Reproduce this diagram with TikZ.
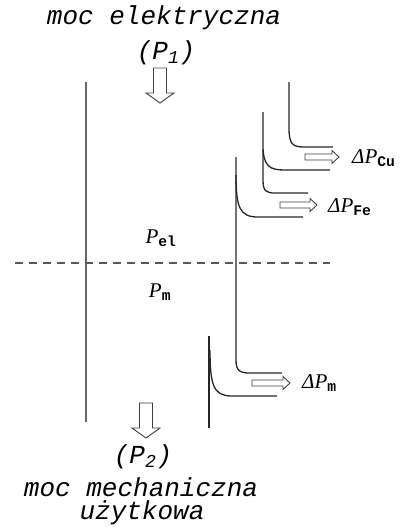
\documentclass[tikz,border=0pt]{standalone}
\usepackage{fontspec}
\setmainfont{Liberation Serif}
\newfontfamily\cour{Liberation Mono}
\newcommand\rarr[3]{\draw[hollow] ({#1},{#2-3}) -- ({#1+#3-7},{#2-3}) -- ({#1+#3-7},{#2-6.5}) -- ({#1+#3},{#2}) -- ({#1+#3-7},{#2+6.5}) -- ({#1+#3-7},{#2+3}) -- ({#1},{#2+3}) -- cycle;}
\newcommand\darr[3]{\draw[hollow] ({#1-6.5},{#2}) -- ({#1+6.5},{#2}) -- ({#1+6.5},{#3-10}) -- ({#1+14},{#3-10}) -- ({#1},{#3}) -- ({#1-14},{#3-10}) -- ({#1-6.5},{#3-10}) -- cycle;}
\begin{document}
\begin{tikzpicture}[x=1pt,y=-1pt,
  flow/.style={draw=black!85, line width=1.3pt},
  bar/.style={draw=black!60, line width=1.8pt},
  hollow/.style={draw=black!75, line width=0.9pt, fill=white},
  ttl/.style={font=\fontsize{26}{30}\selectfont\cour\itshape, inner sep=0pt},
  lbl/.style={font=\fontsize{21}{24}\selectfont, inner sep=0pt},
  sub/.style={}]
\useasboundingbox (0,0) rectangle (411,530);
% texts
\node[ttl] (t1) at (164,18) {moc elektryczna};
\node[ttl] (p1) at (166,53) {(P\textsubscript{1})};
\node[ttl] (p2) at (143,457) {(P\textsubscript{2})};
\node[ttl] (t2) at (141,487) {moc mechaniczna};
\node[ttl] (t3) at (142,513) {użytkowa};
% arrows in/out
\darr{160}{68}{103}
\darr{146}{403}{438}
% left bar
\draw[bar] (86,82) -- (86,422);
% dashed line
\draw[draw=black!65, line width=1.5pt, dash pattern=on 8pt off 6pt] (15,263) -- (330,263);
% Pel / Pm
\node[lbl] (pel) at (161,238) {\itshape P\textsubscript{\upshape\cour\bfseries el}};
\node[lbl] (pm) at (160,292) {\itshape P\textsubscript{\upshape\cour\bfseries m}};
% flow curves
\draw[flow] (289,82) -- (289,128) .. controls (289,145) and (293,147) .. (305,147) -- (333,147);
\draw[flow] (263,112) -- (263,145) .. controls (263,167) and (270,170) .. (285,170) -- (330,170);
\draw[flow] (263,150) -- (263,180) .. controls (263,191) and (266,193) .. (275,193) -- (308,193);
\draw[flow] (236,157) -- (236,360) .. controls (236,371) and (240,373) .. (250,373) -- (282,373);
\draw[flow] (236,175) .. controls (236,208) and (240,217) .. (258,217) -- (303,217);
\draw[flow] (209,336) -- (209,428);
\draw[flow] (210,350) .. controls (210,386) and (214,395) .. (230,396) -- (277,396);
% loss arrows
\rarr{305}{157}{34}
\rarr{280}{205}{37}
\rarr{252}{383}{38}
% loss labels
\node[lbl, anchor=west] (lcu) at (352,158) {\itshape ΔP\textsubscript{\upshape\cour\bfseries Cu}};
\node[lbl, anchor=west] (lfe) at (328,207) {\itshape ΔP\textsubscript{\upshape\cour\bfseries Fe}};
\node[lbl, anchor=west] (lm) at (302,383) {\itshape ΔP\textsubscript{\upshape\cour\bfseries m}};
\end{tikzpicture}
\end{document}
